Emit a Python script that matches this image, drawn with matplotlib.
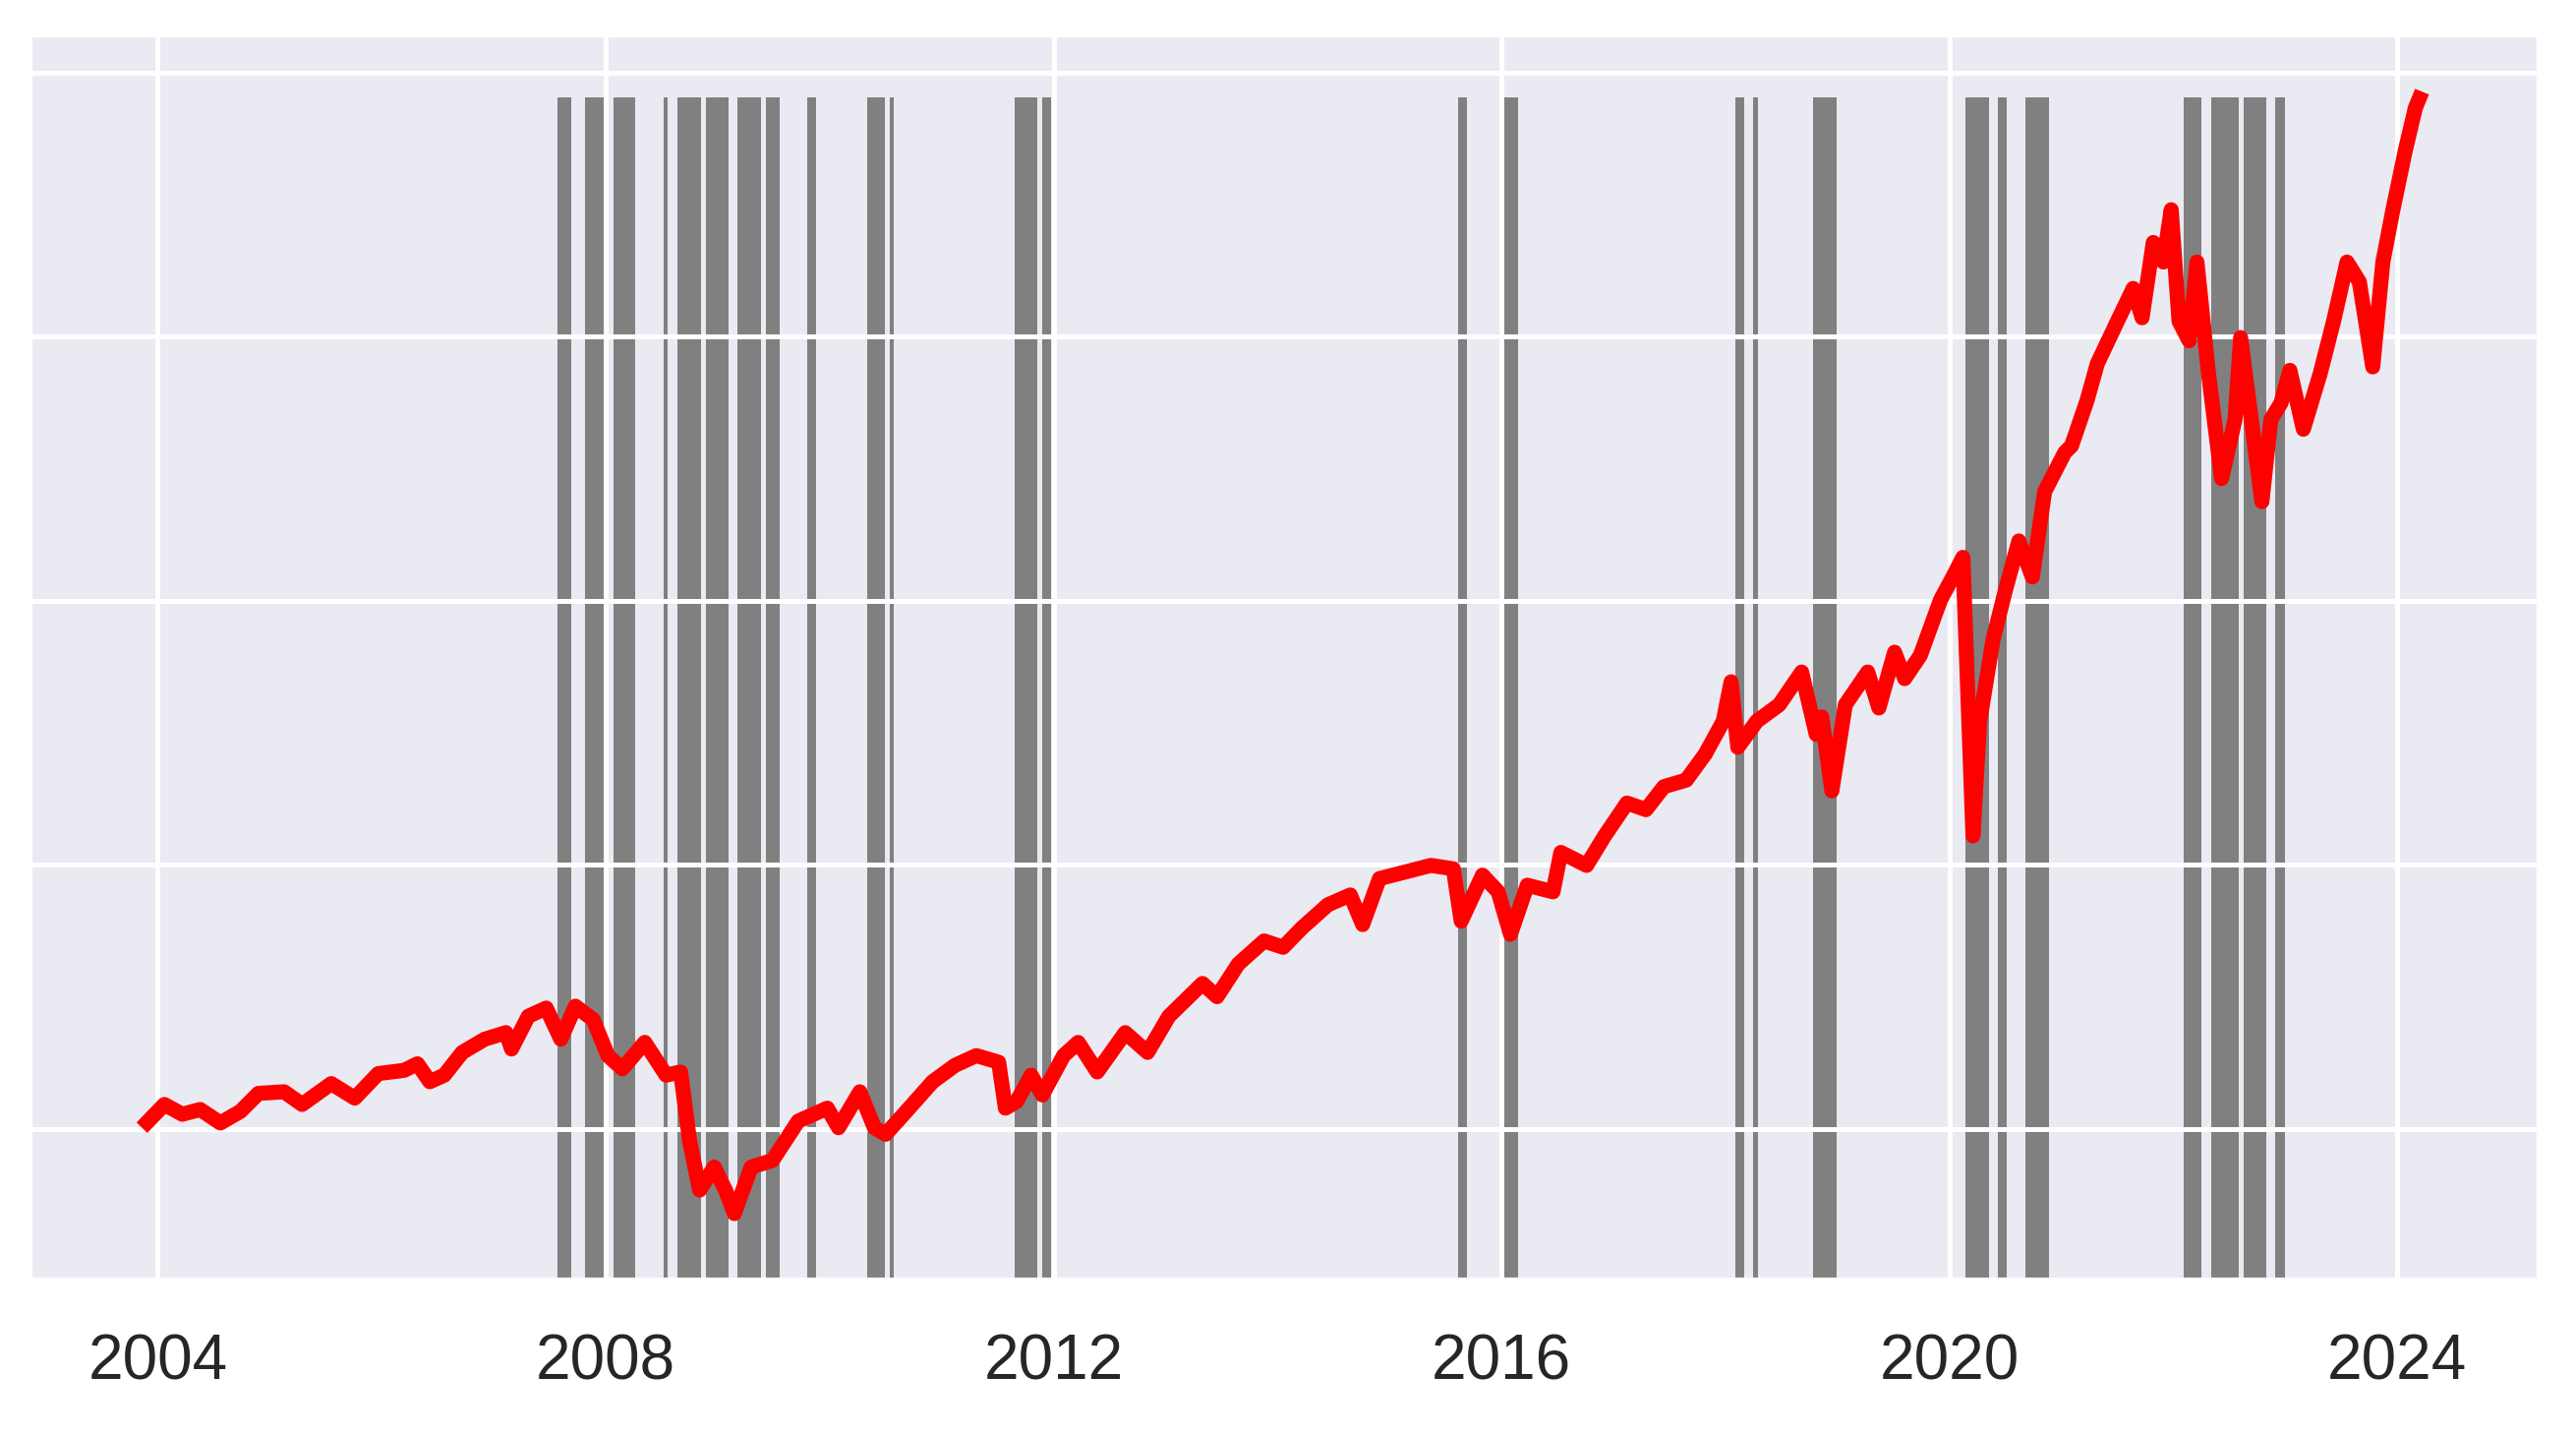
import numpy as np
import matplotlib
matplotlib.use("Agg")
import matplotlib.pyplot as plt
import seaborn as sns

# index level (decimal year, value)
years = [2003.86, 2004.06, 2004.22, 2004.38, 2004.56, 2004.74, 2004.90, 2005.13, 2005.29, 2005.55,
         2005.76, 2005.97, 2006.20, 2006.32, 2006.43, 2006.56, 2006.72, 2006.92, 2007.11, 2007.16,
         2007.31, 2007.47, 2007.60, 2007.73, 2007.89, 2008.02, 2008.15, 2008.35, 2008.54, 2008.67,
         2008.75, 2008.84, 2008.97, 2009.07, 2009.15, 2009.30, 2009.49, 2009.72, 2009.98, 2010.08,
         2010.27, 2010.40, 2010.50, 2010.66, 2010.92, 2011.12, 2011.31, 2011.51, 2011.57, 2011.67,
         2011.80, 2011.90, 2012.09, 2012.22, 2012.39, 2012.64, 2012.84, 2013.03, 2013.33, 2013.46,
         2013.65, 2013.88, 2014.05, 2014.22, 2014.45, 2014.65, 2014.76, 2014.91, 2015.14, 2015.37,
         2015.57, 2015.64, 2015.83, 2015.97, 2016.08, 2016.23, 2016.46, 2016.53, 2016.76, 2016.92,
         2017.12, 2017.29, 2017.45, 2017.65, 2017.82, 2017.98, 2018.05, 2018.11, 2018.28, 2018.48,
         2018.68, 2018.81, 2018.86, 2018.95, 2019.07, 2019.27, 2019.37, 2019.51, 2019.60, 2019.74,
         2019.92, 2020.03, 2020.12, 2020.21, 2020.27, 2020.39, 2020.50, 2020.62, 2020.74, 2020.85,
         2021.03, 2021.09, 2021.23, 2021.32, 2021.50, 2021.64, 2021.72, 2021.82, 2021.91, 2021.98,
         2022.05, 2022.14, 2022.21, 2022.31, 2022.43, 2022.55, 2022.60, 2022.79, 2022.87, 2022.96,
         2023.04, 2023.16, 2023.31, 2023.43, 2023.55, 2023.66, 2023.78, 2023.87, 2023.96, 2024.07,
         2024.16, 2024.22]
values = [1005, 1093, 1056, 1074, 1023, 1067, 1135, 1141, 1093, 1172,
          1117, 1210, 1222, 1247, 1179, 1204, 1290, 1340, 1365, 1303,
          1427, 1458, 1340, 1465, 1414, 1278, 1228, 1328, 1204, 1216,
          955, 769, 856, 769, 680, 856, 881, 1030, 1079, 1005,
          1141, 1005, 980, 1055, 1179, 1241, 1278, 1253, 1079, 1104,
          1204, 1129, 1278, 1328, 1216, 1365, 1290, 1427, 1551, 1501,
          1625, 1712, 1688, 1762, 1849, 1886, 1774, 1948, 1973, 1998,
          1985, 1787, 1961, 1898, 1737, 1923, 1898, 2047, 1998, 2109,
          2234, 2209, 2296, 2321, 2420, 2544, 2693, 2445, 2544, 2606,
          2730, 2494, 2560, 2280, 2606, 2730, 2594, 2805, 2705, 2793,
          3003, 3090, 3164, 2110, 2544, 2854, 3040, 3226, 3090, 3413,
          3561, 3586, 3760, 3897, 4058, 4182, 4071, 4356, 4282, 4480,
          4058, 3984, 4282, 3872, 3462, 3686, 3996, 3375, 3686, 3748,
          3872, 3649, 3859, 4058, 4282, 4207, 3885, 4282, 4480, 4703,
          4865, 4927]

# high-volatility periods (grey bands)
band_start = [2007.571, 2007.818, 2008.067, 2008.521, 2008.645, 2008.894, 2009.179, 2009.428,
              2009.796, 2010.333, 2010.540, 2011.652, 2011.901, 2015.609, 2016.022, 2018.085,
              2018.246, 2018.784, 2020.145, 2020.431, 2020.680, 2022.089, 2022.335, 2022.625,
              2022.912]
band_end = [2007.692, 2008.023, 2008.268, 2008.558, 2008.850, 2009.098, 2009.387, 2009.552,
            2009.877, 2010.498, 2010.577, 2011.857, 2011.982, 2015.691, 2016.145, 2018.167,
            2018.290, 2018.989, 2020.350, 2020.513, 2020.885, 2022.253, 2022.581, 2022.830,
            2022.993]

year_ticks = [2004, 2008, 2012, 2016, 2020, 2024]
level_ticks = [1000, 2000, 3000, 4000, 5000]

sns.set_style("darkgrid")
plt.rcParams['font.family'] = ['Liberation Sans', 'DejaVu Sans']

fig = plt.figure(figsize=(13.1, 7.29), dpi=200)
ax = fig.add_axes([0.0122, 0.1084, 0.9729, 0.8662])

for s, e in zip(band_start, band_end):
    ax.axvspan(s, e, ymin=0, ymax=0.951, color="#808080", lw=0, zorder=0.2)

ax.plot(years, values, color="red", lw=5.5, zorder=2,
        solid_joinstyle="round", solid_capstyle="butt")

ax.set_xlim(2002.873, 2025.252)
ax.set_ylim(434, 5136)
ax.set_xticks(year_ticks)
ax.set_xticklabels([str(y) for y in year_ticks])
ax.set_yticks(level_ticks)
ax.set_yticklabels([])
ax.grid(True, color="white", lw=1.8)
ax.tick_params(axis="x", labelsize=23, pad=20, colors="#262626", length=0)
ax.tick_params(axis="y", length=0)

fig.savefig("out.png", dpi=200)
